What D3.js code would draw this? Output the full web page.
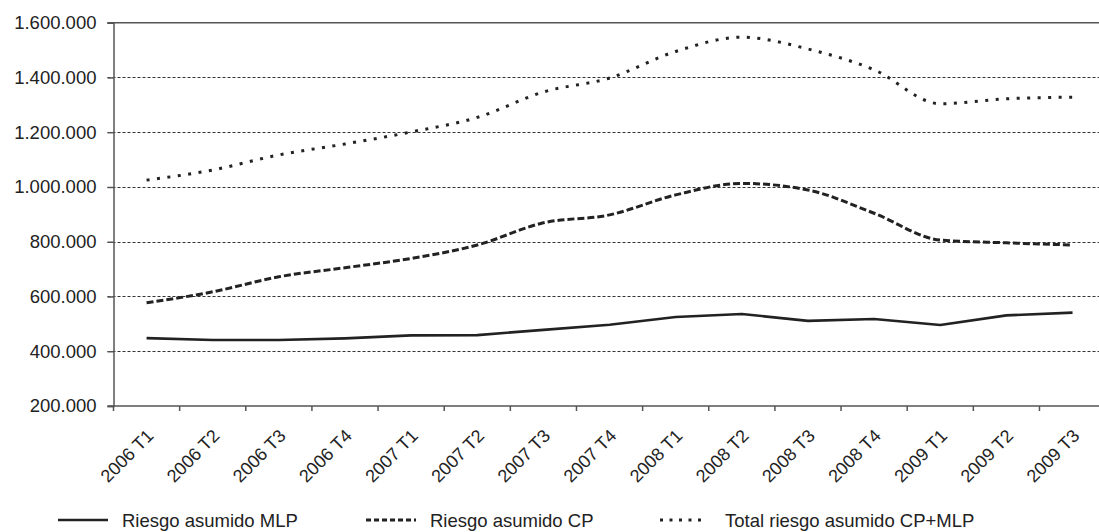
<!DOCTYPE html>
<html>
<head>
<meta charset="utf-8">
<script src="https://cdn.jsdelivr.net/npm/d3@7"></script>
<style>
  html, body { margin: 0; padding: 0; background: #fff; }
  svg { display: block; font-family: "Liberation Sans", Arial, sans-serif; }
</style>
</head>
<body>
<svg id="chart" width="1099" height="532"></svg>
<script>
// Quarters on the x axis
const quarters = [
  "2006 T1", "2006 T2", "2006 T3", "2006 T4",
  "2007 T1", "2007 T2", "2007 T3", "2007 T4",
  "2008 T1", "2008 T2", "2008 T3", "2008 T4",
  "2009 T1", "2009 T2", "2009 T3"
];

// Long / medium term risk (MLP)
const riesgoMLP = [448000, 441000, 441000, 447000, 458000, 459000, 478000, 497000,
                   525000, 536000, 511000, 518000, 496000, 531000, 541000];

// Short term risk (CP)
const riesgoCP = [577000, 617000, 672000, 705000, 739000, 788000, 869000, 898000,
                  971000, 1013000, 989000, 904000, 806000, 796000, 788000];

// Total risk CP + MLP
const riesgoTotal = [1025000, 1062000, 1117000, 1157000, 1201000, 1254000, 1347000, 1398000,
                     1495000, 1547000, 1504000, 1428000, 1304000, 1322000, 1328000];

// Y axis ticks
const yTicks = [200000, 400000, 600000, 800000, 1000000, 1200000, 1400000, 1600000];

const seriesNames = ["Riesgo asumido MLP", "Riesgo asumido CP", "Total riesgo asumido CP+MLP"];

const svg = d3.select("#chart");
const W = 1099, H = 532;
const plotLeft = 113.5, plotTop = 22.7, plotBottom = 406, plotRight = 1105.6;
const ink = "#222";
const axisCol = "#555";

svg.append("rect").attr("width", W).attr("height", H).attr("fill", "#fff");

const x = d3.scaleBand().domain(quarters).range([plotLeft, plotRight]).padding(0);
const y = d3.scaleLinear().domain([200000, 1600000]).range([plotBottom, plotTop]);
const cx = q => x(q) + x.bandwidth() / 2;

const fmt = v => d3.format(",")(v).replace(/,/g, ".");

// Horizontal dotted gridlines
svg.append("g").selectAll("line")
  .data(yTicks.filter(v => v > 200000 && v < 1600000))
  .join("line")
  .attr("x1", plotLeft - 6).attr("x2", W)
  .attr("y1", d => Math.round(y(d)) + 0.5).attr("y2", d => Math.round(y(d)) + 0.5)
  .attr("stroke", "#333").attr("stroke-width", 1)
  .attr("stroke-dasharray", "3,2");

// Top border of the plot area
svg.append("line")
  .attr("x1", plotLeft - 6).attr("x2", W)
  .attr("y1", y(1600000)).attr("y2", y(1600000))
  .attr("stroke", axisCol).attr("stroke-width", 1.5);

// Left axis
const yAxis = d3.axisLeft(y).tickValues(yTicks).tickSize(6).tickPadding(11).tickFormat(fmt);
const gy = svg.append("g").attr("transform", `translate(${plotLeft},0)`).call(yAxis);
gy.select(".domain").attr("stroke", axisCol).attr("stroke-width", 1.5);
gy.selectAll(".tick line").attr("stroke", axisCol).attr("stroke-width", 1.5);
gy.selectAll(".tick text")
  .attr("fill", ink).attr("font-size", "18.5px")
  .attr("font-family", "'Liberation Sans', Arial, sans-serif");

// Bottom axis line with ticks at the category boundaries
svg.append("line")
  .attr("x1", plotLeft - 6).attr("x2", W)
  .attr("y1", plotBottom).attr("y2", plotBottom)
  .attr("stroke", axisCol).attr("stroke-width", 1.5);
const bounds = quarters.map(q => x(q)).concat([x(quarters[quarters.length - 1]) + x.bandwidth()]);
svg.append("g").selectAll("line").data(bounds).join("line")
  .attr("x1", d => d).attr("x2", d => d)
  .attr("y1", plotBottom).attr("y2", plotBottom + 5)
  .attr("stroke", axisCol).attr("stroke-width", 1.5);

// Rotated quarter labels
svg.append("g").selectAll("text").data(quarters).join("text")
  .attr("transform", d => `translate(${cx(d) + 8},${plotBottom + 31}) rotate(-45)`)
  .attr("text-anchor", "end")
  .attr("font-size", "18px")
  .attr("fill", ink)
  .text(d => d);

// Series lines
const series = [
  { name: seriesNames[0], values: riesgoMLP, dash: null, width: 2.6, curve: d3.curveLinear },
  { name: seriesNames[1], values: riesgoCP, dash: "7,3", width: 3, curve: d3.curveMonotoneX },
  { name: seriesNames[2], values: riesgoTotal, dash: "3,7.5", width: 3, curve: d3.curveMonotoneX }
];

series.forEach(s => {
  const line = d3.line()
    .x((d, i) => cx(quarters[i]))
    .y(d => y(d))
    .curve(s.curve);
  svg.append("path")
    .datum(s.values)
    .attr("d", line)
    .attr("fill", "none")
    .attr("stroke", ink)
    .attr("stroke-width", s.width)
    .attr("stroke-dasharray", s.dash)
    .attr("stroke-linejoin", "round");
});

// Legend
const legendItems = [
  { x1: 58, x2: 108, tx: 122, s: series[0], dash: null },
  { x1: 366, x2: 416, tx: 430, s: series[1], dash: "5,3" },
  { x1: 660, x2: 706, tx: 725, s: series[2], dash: "3,6.5" }
];
const lg = svg.append("g");
legendItems.forEach(it => {
  lg.append("line")
    .attr("x1", it.x1).attr("x2", it.x2)
    .attr("y1", 520).attr("y2", 520)
    .attr("stroke", ink).attr("stroke-width", it.s.width)
    .attr("stroke-dasharray", it.dash);
  lg.append("text")
    .attr("x", it.tx).attr("y", 526.5)
    .attr("font-size", "18.5px")
    .attr("fill", ink)
    .text(it.s.name);
});
</script>
</body>
</html>
